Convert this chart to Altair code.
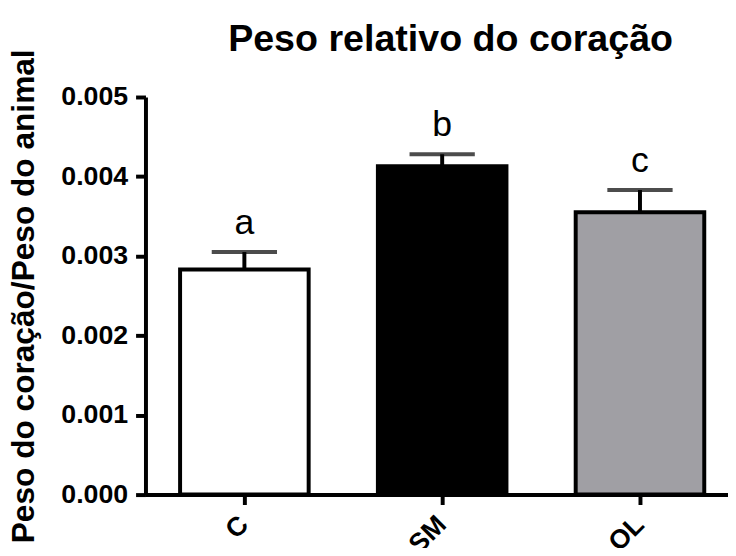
import altair as alt
import pandas as pd

groups = ["C", "SM", "OL"]
means = [0.00283, 0.00413, 0.00355]
sems = [0.00022, 0.00015, 0.00028]
letters = ["a", "b", "c"]
colors = ["#ffffff", "#000000", "#a09fa4"]
y_ticks = [0.0, 0.001, 0.002, 0.003, 0.004, 0.005]

df = pd.DataFrame({"group": groups, "mean": means, "sem": sems,
                   "letter": letters, "color": colors})
df["top"] = df["mean"] + df["sem"]

FONT = "Liberation Sans"

x = alt.X("group:N", sort=groups, title=None,
          scale=alt.Scale(range=[0, 600], paddingInner=0.35, paddingOuter=0.175),
          axis=alt.Axis(labelAngle=315, labelAlign="right", labelBaseline="middle",
                        labelFontSize=27, labelFontWeight="bold", labelFont=FONT,
                        labelColor="black", labelPadding=16, tickSize=10,
                        tickWidth=4, tickColor="black", domainWidth=4,
                        domainColor="black"))

y_axis = alt.Axis(values=y_ticks, format=".3f", title="Peso do coração/Peso do animal",
                  titleFont=FONT, titleFontSize=32, titleFontWeight="bold",
                  titleColor="black", titlePadding=21, grid=False,
                  labelFont=FONT, labelFontSize=27, labelFontWeight="bold",
                  labelColor="black", labelPadding=8, tickSize=10, tickWidth=4,
                  tickColor="black", domainWidth=4, domainColor="black")
y_scale = alt.Scale(domain=[0, 0.005], nice=False, zero=True)

base = alt.Chart(df)

err = base.mark_rule(strokeWidth=4, color="black").encode(
    x=x, y=alt.Y("mean:Q", scale=y_scale, axis=y_axis), y2="top:Q")
bars = base.mark_bar(stroke="black", strokeWidth=4).encode(
    x=x, y=alt.Y("mean:Q", scale=y_scale, axis=y_axis),
    color=alt.Color("color:N", scale=None))
cap = base.mark_tick(size=66, thickness=4, color="black").encode(
    x=x, y=alt.Y("top:Q", scale=y_scale, axis=y_axis))
txt = base.mark_text(fontSize=36, font=FONT, dy=-18, baseline="alphabetic",
                     color="black").encode(
    x=x, y=alt.Y("top:Q", scale=y_scale, axis=y_axis), text="letter:N")

chart = alt.layer(err, bars, cap, txt).properties(
    width=589, height=402,
    autosize=alt.AutoSizeParams(type="none"),
    padding={"left": 139, "top": 87, "right": 0, "bottom": 51},
    title=alt.TitleParams("Peso relativo do coração", font=FONT, fontSize=38,
                          fontWeight="bold", color="black", anchor="middle",
                          baseline="alphabetic", offset=0, dx=14, dy=40),
).configure(background="white").configure_view(stroke=None)

chart.save("out.html", embed_options={"renderer": "svg", "actions": False})
